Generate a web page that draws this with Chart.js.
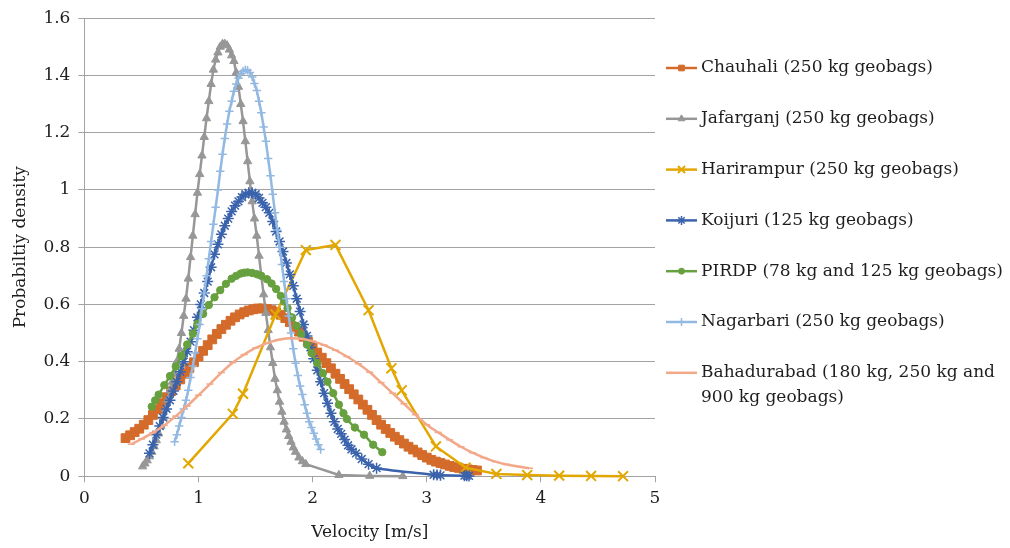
<!DOCTYPE html>
<html>
<head>
<meta charset="utf-8">
<script src="https://cdn.jsdelivr.net/npm/chart.js@4.4.1/dist/chart.umd.min.js"></script>
<style>
html, body { margin: 0; padding: 0; background: #fff; }
#wrap { width: 1010px; height: 548px; position: relative; }
</style>
</head>
<body>
<div id="wrap"><canvas id="velocityChart"></canvas></div>
<script>
// axis ticks
const xTickLabels = ['0', '1', '2', '3', '4', '5'];
const yTickLabels = ['0', '0.2', '0.4', '0.6', '0.8', '1', '1.2', '1.4', '1.6'];

// sites, legend text split into lines
const siteNames = [
  'Chauhali (250 kg geobags)',
  'Jafarganj (250 kg geobags)',
  'Harirampur (250 kg geobags)',
  'Koijuri (125 kg geobags)',
  'PIRDP (78 kg and 125 kg geobags)',
  'Nagarbari (250 kg geobags)',
  'Bahadurabad (180 kg, 250 kg and 900 kg geobags)'
];
const legendLines = [
  ['Chauhali (250 kg geobags)'],
  ['Jafarganj (250 kg geobags)'],
  ['Harirampur (250 kg geobags)'],
  ['Koijuri (125 kg geobags)'],
  ['PIRDP (78 kg and 125 kg geobags)'],
  ['Nagarbari (250 kg geobags)'],
  ['Bahadurabad (180 kg, 250 kg and', '900 kg geobags)']
];

// velocity [m/s] and probability density per site
const chauhaliV = [0.36,0.40,0.44,0.48,0.52,0.56,0.60,0.64,0.68,0.72,0.76,0.80,0.84,0.88,0.92,0.96,1.00,1.04,1.08,1.12,
  1.16,1.20,1.24,1.28,1.32,1.36,1.40,1.44,1.48,1.52,1.56,1.60,1.64,1.68,1.72,1.76,1.80,1.84,1.88,1.92,
  1.96,2.00,2.04,2.08,2.12,2.16,2.20,2.24,2.28,2.32,2.36,2.40,2.44,2.48,2.52,2.56,2.60,2.64,2.68,2.72,
  2.76,2.80,2.84,2.88,2.92,2.96,3.00,3.04,3.08,3.12,3.16,3.20,3.24,3.28,3.32,3.36,3.40,3.44];
const chauhaliP = [0.133,0.143,0.154,0.166,0.180,0.196,0.214,0.234,0.255,0.276,0.297,0.317,0.338,0.358,0.378,0.398,0.418,0.438,0.458,0.478,
  0.497,0.514,0.529,0.543,0.555,0.565,0.573,0.579,0.583,0.586,0.586,0.584,0.580,0.573,0.564,0.552,0.538,0.522,0.505,0.487,
  0.469,0.451,0.432,0.414,0.395,0.377,0.358,0.340,0.322,0.304,0.286,0.268,0.250,0.232,0.214,0.196,0.180,0.165,0.151,0.138,
  0.126,0.114,0.103,0.093,0.083,0.074,0.065,0.057,0.051,0.046,0.041,0.036,0.032,0.029,0.026,0.024,0.022,0.020];

const jafarganjV = [0.51,0.53,0.55,0.57,0.59,0.61,0.63,0.65,0.67,0.69,0.71,0.73,0.75,0.77,0.79,0.81,0.83,0.85,0.87,0.89,
  0.91,0.93,0.95,0.97,0.99,1.01,1.03,1.05,1.07,1.09,1.11,1.13,1.15,1.17,1.19,1.21,1.23,1.25,1.27,1.29,
  1.31,1.33,1.35,1.37,1.39,1.41,1.43,1.45,1.47,1.49,1.51,1.53,1.55,1.57,1.59,1.61,1.63,1.65,1.67,1.69,
  1.71,1.73,1.75,1.77,1.79,1.81,1.83,1.85,1.88,1.91,1.94,2.23,2.50,2.79];
const jafarganjP = [0.034,0.044,0.055,0.069,0.085,0.104,0.125,0.149,0.175,0.204,0.235,0.267,0.300,0.330,0.360,0.400,0.445,0.500,0.560,0.620,
  0.690,0.765,0.840,0.915,0.990,1.055,1.120,1.185,1.250,1.310,1.370,1.420,1.455,1.480,1.500,1.510,1.510,1.505,1.490,1.470,
  1.450,1.410,1.360,1.300,1.240,1.170,1.100,1.030,0.960,0.900,0.840,0.770,0.700,0.635,0.570,0.510,0.450,0.395,0.340,0.300,
  0.260,0.225,0.190,0.163,0.140,0.120,0.100,0.085,0.065,0.052,0.042,0.004,0.001,0.000];

const harirampurV = [0.91,1.30,1.39,1.675,1.94,2.20,2.49,2.69,2.78,3.08,3.34,3.61,3.88,4.16,4.44,4.72];
const harirampurP = [0.045,0.218,0.288,0.565,0.790,0.808,0.580,0.377,0.300,0.104,0.030,0.008,0.004,0.002,0.001,0.000];

const koijuriV = [0.57,0.60,0.63,0.66,0.69,0.72,0.75,0.78,0.81,0.84,0.87,0.90,0.93,0.96,0.99,1.02,1.05,1.08,1.11,1.14,
  1.17,1.20,1.23,1.26,1.29,1.32,1.35,1.38,1.41,1.44,1.47,1.50,1.53,1.56,1.59,1.62,1.65,1.68,1.71,1.74,
  1.77,1.80,1.83,1.86,1.89,1.92,1.95,1.98,2.01,2.04,2.07,2.10,2.13,2.16,2.19,2.22,2.25,2.28,2.31,2.34,
  2.38,2.43,2.49,2.56,3.06,3.09,3.12,3.33,3.35,3.37];
const koijuriP = [0.080,0.110,0.145,0.175,0.205,0.235,0.265,0.298,0.330,0.365,0.400,0.435,0.470,0.510,0.555,0.600,0.640,0.680,0.730,0.775,
  0.810,0.845,0.875,0.900,0.925,0.945,0.960,0.975,0.985,0.990,0.990,0.985,0.972,0.955,0.940,0.920,0.890,0.855,0.820,0.785,
  0.745,0.705,0.665,0.620,0.575,0.530,0.490,0.450,0.410,0.370,0.330,0.290,0.255,0.220,0.190,0.165,0.148,0.128,0.108,0.094,
  0.080,0.060,0.042,0.028,0.005,0.004,0.003,0.002,0.002,0.001];

const pirdpV = [0.59,0.62,0.65,0.70,0.75,0.80,0.85,0.90,0.95,0.99,1.04,1.09,1.14,1.19,1.24,1.29,1.33,1.37,1.40,1.43,
  1.47,1.51,1.55,1.60,1.64,1.68,1.72,1.75,1.78,1.82,1.86,1.90,1.95,1.99,2.04,2.09,2.13,2.18,2.23,2.27,
  2.30,2.37,2.45,2.53,2.61];
const pirdpP = [0.243,0.265,0.285,0.318,0.350,0.383,0.420,0.460,0.498,0.532,0.567,0.598,0.625,0.650,0.672,0.690,0.700,0.708,0.711,0.712,
  0.710,0.706,0.700,0.688,0.673,0.654,0.630,0.610,0.587,0.555,0.525,0.495,0.460,0.430,0.395,0.360,0.330,0.290,0.250,0.220,
  0.200,0.170,0.145,0.110,0.084];

const nagarbariV = [0.79,0.81,0.83,0.85,0.87,0.89,0.91,0.93,0.95,0.97,0.99,1.01,1.03,1.05,1.07,1.09,1.11,1.13,1.15,1.17,
  1.19,1.21,1.23,1.25,1.27,1.29,1.31,1.33,1.35,1.37,1.39,1.41,1.43,1.45,1.47,1.49,1.51,1.53,1.55,1.57,
  1.59,1.61,1.63,1.65,1.67,1.69,1.71,1.73,1.75,1.77,1.79,1.81,1.83,1.85,1.87,1.89,1.91,1.93,1.95,1.97,
  1.99,2.01,2.03,2.05,2.07];
const nagarbariP = [0.120,0.145,0.175,0.205,0.235,0.265,0.300,0.345,0.385,0.430,0.480,0.530,0.585,0.640,0.700,0.760,0.820,0.880,0.940,1.000,
  1.065,1.125,1.180,1.230,1.275,1.310,1.345,1.370,1.390,1.405,1.415,1.420,1.418,1.410,1.395,1.372,1.347,1.310,1.270,1.220,
  1.170,1.110,1.050,0.985,0.920,0.860,0.800,0.740,0.680,0.620,0.560,0.500,0.445,0.395,0.352,0.315,0.285,0.250,0.220,0.190,
  0.170,0.150,0.130,0.110,0.093];

const bahadurabadV = [0.41,0.50,0.60,0.70,0.80,0.90,1.00,1.10,1.20,1.30,1.40,1.50,1.60,1.70,1.80,1.90,2.00,2.10,2.20,2.30,
  2.40,2.50,2.60,2.70,2.80,2.90,3.00,3.10,3.20,3.30,3.40,3.50,3.60,3.70,3.80,3.90];
const bahadurabadP = [0.112,0.130,0.152,0.178,0.210,0.245,0.283,0.322,0.362,0.397,0.425,0.448,0.465,0.477,0.482,0.480,0.472,0.458,0.440,0.418,
  0.393,0.363,0.327,0.290,0.253,0.215,0.180,0.153,0.127,0.103,0.082,0.065,0.051,0.041,0.034,0.028];

// look of each series: colour, marker and line smoothing
const series = [
  { v: chauhaliV, p: chauhaliP, color: '#D46B2B', marker: 'rect', radius: 6.2, markerWidth: 1, legendRadius: 4, tension: 0 },
  { v: jafarganjV, p: jafarganjP, color: '#979797', marker: 'triangle', radius: 4.8, markerWidth: 1, legendRadius: 4, tension: 0 },
  { v: harirampurV, p: harirampurP, color: '#E2A700', marker: 'crossRot', radius: 7, markerWidth: 2, legendRadius: 5, tension: 0 },
  { v: koijuriV, p: koijuriP, color: '#3A63AC', marker: 'star', radius: 5.5, markerWidth: 1.5, legendRadius: 4.5, tension: 0.3 },
  { v: pirdpV, p: pirdpP, color: '#67A03F', marker: 'circle', radius: 3.7, markerWidth: 1, legendRadius: 3, tension: 0.2 },
  { v: nagarbariV, p: nagarbariP, color: '#93B9E2', marker: 'cross', radius: 4.2, markerWidth: 1.5, legendRadius: 4, tension: 0.2 },
  { v: bahadurabadV, p: bahadurabadP, color: '#F2A889', marker: 'line', radius: 3.5, markerWidth: 1.5, legendRadius: 0, tension: 0.3 }
];

const FONT = '"DejaVu Serif", serif';
const TEXT = '#1e1e1e';
const GRID = '#a3a3a3';

const datasets = series.map((s, i) => ({
  label: siteNames[i],
  data: s.v.map((v, k) => ({ x: v, y: s.p[k] })),
  showLine: true,
  borderColor: s.color,
  backgroundColor: s.color,
  borderWidth: 2.5,
  pointStyle: s.marker,
  pointRadius: s.radius,
  pointBorderWidth: s.markerWidth,
  pointBackgroundColor: s.color,
  pointBorderColor: s.color,
  tension: s.tension,
  order: series.length - i,
  clip: false
}));

// legend on the right: short line with the marker, then the label
const sideLegend = {
  id: 'sideLegend',
  afterDraw(chart) {
    const ctx = chart.ctx;
    const x0 = 666, x1 = 697, textX = 701;
    ctx.save();
    ctx.font = '17px ' + FONT;
    ctx.textBaseline = 'middle';
    series.forEach((s, i) => {
      const y = 68 + i * 50.8;
      ctx.strokeStyle = s.color;
      ctx.lineWidth = 2.5;
      ctx.beginPath();
      ctx.moveTo(x0, y);
      ctx.lineTo(x1, y);
      ctx.stroke();
      if (s.legendRadius > 0) {
        ctx.fillStyle = s.color;
        ctx.lineWidth = s.markerWidth;
        Chart.helpers.drawPoint(ctx, {
          pointStyle: s.marker, radius: s.legendRadius, rotation: 0, borderWidth: s.markerWidth
        }, (x0 + x1) / 2, y);
      }
      ctx.fillStyle = TEXT;
      legendLines[i].forEach((t, k) => ctx.fillText(t, textX, y + k * 25));
    });
    ctx.restore();
  }
};

new Chart(document.getElementById('velocityChart'), {
  type: 'scatter',
  data: { datasets: datasets },
  plugins: [sideLegend],
  options: {
    responsive: true,
    maintainAspectRatio: false,
    animation: false,
    layout: { padding: { left: 0, right: 355, top: 16, bottom: 0 } },
    plugins: {
      legend: { display: false },
      tooltip: { enabled: false }
    },
    scales: {
      x: {
        type: 'linear',
        min: 0,
        max: 5,
        ticks: {
          stepSize: 1,
          color: TEXT,
          padding: 6,
          font: { family: FONT, size: 17 },
          callback: (v, i) => xTickLabels[i]
        },
        grid: { drawOnChartArea: false, drawTicks: true, tickLength: 6, color: GRID },
        border: { color: GRID, width: 1 },
        title: {
          display: true,
          text: 'Velocity [m/s]',
          color: TEXT,
          font: { family: FONT, size: 17 },
          padding: { top: 8, bottom: 5 }
        }
      },
      y: {
        min: 0,
        max: 1.6,
        ticks: {
          stepSize: 0.2,
          color: TEXT,
          padding: 8,
          font: { family: FONT, size: 17 },
          callback: (v, i) => yTickLabels[i]
        },
        grid: { color: GRID, lineWidth: 1, drawTicks: true, tickLength: 6 },
        border: { color: GRID, width: 1 },
        title: {
          display: true,
          text: 'Probabiltiy density',
          color: TEXT,
          font: { family: FONT, size: 17 },
          padding: { top: 10, bottom: 5 }
        }
      }
    }
  }
});
</script>
</body>
</html>
